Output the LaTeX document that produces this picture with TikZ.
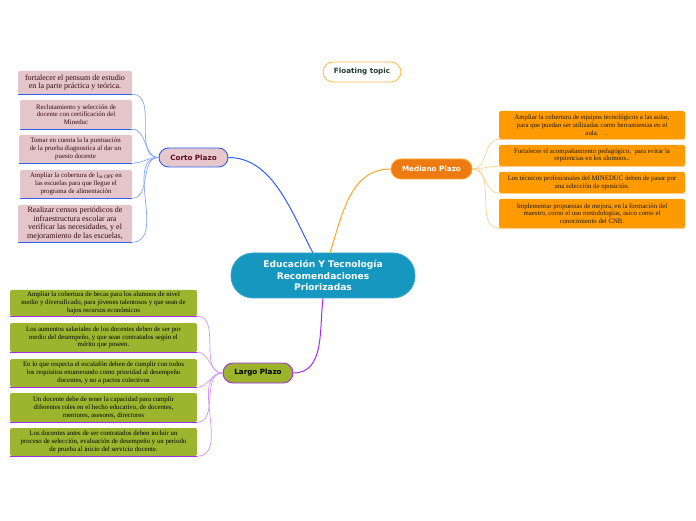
\documentclass[tikz,border=0pt]{standalone}
\usepackage{fontspec}
\setmainfont{Liberation Serif}
\newfontfamily\topicfont{DejaVu Sans}
\definecolor{centralfill}{HTML}{1597BF}
\definecolor{cortofill}{HTML}{E6C7CB}
\definecolor{cortoline}{HTML}{2F5FF0}
\definecolor{cortolight}{HTML}{86A4F8}
\definecolor{cortotext}{HTML}{5B0F20}
\definecolor{cboxfill}{HTML}{E4C5CA}
\definecolor{medfill}{HTML}{EE7B12}
\definecolor{medline}{HTML}{FFA52A}
\definecolor{medlight}{HTML}{FFD08A}
\definecolor{mboxfill}{HTML}{FF9A00}
\definecolor{largofill}{HTML}{9CB32C}
\definecolor{largoline}{HTML}{A32CE8}
\definecolor{largolight}{HTML}{D595F5}
\definecolor{lboxfill}{HTML}{9DB52E}
\definecolor{floatline}{HTML}{FFB84A}
\definecolor{floattext}{HTML}{1F3F2F}
\tikzset{
  topic/.style={draw, line width=0.9pt, rounded corners=9.5pt, inner sep=0pt, align=center,
    font=\topicfont\bfseries\fontsize{7.2}{8.5}\selectfont},
  subbox/.style={rounded corners=2pt, inner sep=0pt, align=center},
  smalltext/.style={font=\fontsize{6.8}{7.7}\selectfont},
  bigtext/.style={font=\fontsize{8}{8.6}\selectfont},
  cbox/.style={subbox, fill=cboxfill, text=cortotext!60!black},
  mbox/.style={subbox, fill=mboxfill, text=black!90, minimum width=186pt, smalltext},
  lbox/.style={subbox, fill=lboxfill, text=black, minimum width=187pt, smalltext},
  cconn/.style={cortolight, line width=0.7pt},
  mconn/.style={medlight, line width=0.7pt},
  lconn/.style={largolight, line width=0.7pt},
}
\begin{document}
\begin{tikzpicture}[x=1pt,y=1pt]
\useasboundingbox (0,0) rectangle (696,520);
% central
\node[fill=centralfill, draw=centralfill!85!white, line width=0.8pt, rounded corners=22pt,
  minimum width=184pt, minimum height=45pt, inner sep=0pt, align=center, text=white,
  font=\topicfont\bfseries\fontsize{9.1}{11.8}\selectfont] (central) at (323,244.5)
  {Educación Y Tecnología\\Recomendaciones\\Priorizadas};
% main topics
\node[topic, fill=cortofill, draw=cortoline, text=cortotext, minimum width=69pt, minimum height=19pt] (corto) at (193.5,362.5) {Corto Plazo};
\node[topic, fill=medfill, draw=medline, text=white, minimum width=81pt, minimum height=20pt, rounded corners=10pt] (mediano) at (431.5,351) {Mediano Plazo};
\node[topic, fill=largofill, draw=largoline, text=black, minimum width=70pt, minimum height=20pt, rounded corners=10pt] (largo) at (258,147) {Largo Plazo};
\node[topic, fill=white, draw=floatline, text=floattext, minimum width=78pt, minimum height=20pt, rounded corners=10pt, line width=0.8pt] (float) at (362,448) {Floating topic};
% main connectors
\draw[cortoline, line width=1pt] (corto.east) to[out=0,in=118,looseness=0.9] (central.114);
\draw[medline, line width=1pt] (central.73) to[out=72,in=180] (mediano.west);
\draw[largoline, line width=1pt] (central.south) to[out=-97,in=0] (largo.east);
% corto boxes
\node[cbox, bigtext, minimum width=114pt, minimum height=23pt] (c1) at (75,437.5) {fortalecer el pensum de estudio\\en la parte práctica y teórica.};
\node[cbox, smalltext, minimum width=112pt, minimum height=29pt] (c2) at (76,405.5) {Reclutamiento y selección de\\docente con certificación del\\Mineduc};
\node[cbox, smalltext, minimum width=113pt, minimum height=28pt] (c3) at (75.5,371) {Tomar en cuenta la la puntuación\\de la prueba diagnostica al dar un\\puesto docente};
\node[cbox, smalltext, minimum width=112pt, minimum height=28pt] (c4) at (76,336) {Ampliar la cobertura de l\raisebox{-0.8pt}{\fontsize{5.2}{5.5}\selectfont as OPF} en\\las escuelas para que llegue el\\programa de alimentación};
\node[cbox, bigtext, minimum width=114pt, minimum height=37pt] (c5) at (75,296.5) {Realizar censos periódicos de\\infraestructura escolar ara\\verificar las necesidades, y el\\mejoramiento de las escuelas,};
\foreach \b in {c1,c2,c3,c4,c5}{
  \draw[cconn] (\b.south east) to[out=0,in=180] (corto.west);
  \draw[cortoline, line width=1.1pt] (\b.south west) -- (\b.south east);
}
% mediano boxes
\node[mbox, minimum height=28pt] (m1) at (592,395) {Ampliar la cobertura de equipos tecnológicos a las aulas,\\para que puedan ser utilizadas como herramientas en el\\aula.};
\node[mbox, minimum height=21pt] (m2) at (592,364.5) {Fortalecer el acompañamiento pedagógico,\ \ para evitar la\\repitencias en los alumnos..};
\node[mbox, minimum height=21pt] (m3) at (592,337.5) {Los técnicos profesionales del MINEDUC deben de pasar por\\una selección de oposición.};
\node[mbox, minimum height=29pt] (m4) at (592,306.5) {Implementar propuestas de mejora, en la formación del\\maestro, como el uso metodologías, asico como el\\conocimiento del CNB.};
\foreach \b in {m1,m2,m3,m4}{
  \draw[mconn] (mediano.east) to[out=0,in=180] (\b.south west);
  \draw[medlight, line width=1.1pt] (\b.south west) -- (\b.south east);
}
% largo boxes
\node[lbox, minimum height=26pt] (l1) at (103.5,217) {Ampliar la cobertura de becas para los alumnos de nivel\\medio y diversificado, para jóvenes talentosos y que sean de\\bajos recursos económicos};
\node[lbox, minimum height=29pt] (l2) at (103.5,182.5) {Los aumentos salariales de los docentes deben de ser por\\medio del desempeño, y que sean contratados según el\\mérito que poseen.};
\node[lbox, minimum height=28pt] (l3) at (103.5,147) {En lo que respecta el escalafón deben de cumplir con todos\\los requisitos enumerando como prioridad al desempeño\\docentes, y no a pactos colectivos};
\node[lbox, minimum height=29pt] (l4) at (103.5,112.5) {Un docente debe de tener la capacidad para cumplir\\diferentes roles en el hecho educativo, de docentes,\\mentores, asesores, directores};
\node[lbox, minimum height=28pt] (l5) at (103.5,78) {Los docentes antes de ser contratados deben incluir un\\proceso de selección, evaluación de desempeño y un periodo\\de prueba al inicio del servicio docente.};
\foreach \b in {l1,l2,l3,l4,l5}{
  \draw[lconn] (\b.south east) to[out=0,in=180] (largo.west);
  \draw[largoline, line width=1.1pt] (\b.south west) -- (\b.south east);
}
\end{tikzpicture}
\end{document}
